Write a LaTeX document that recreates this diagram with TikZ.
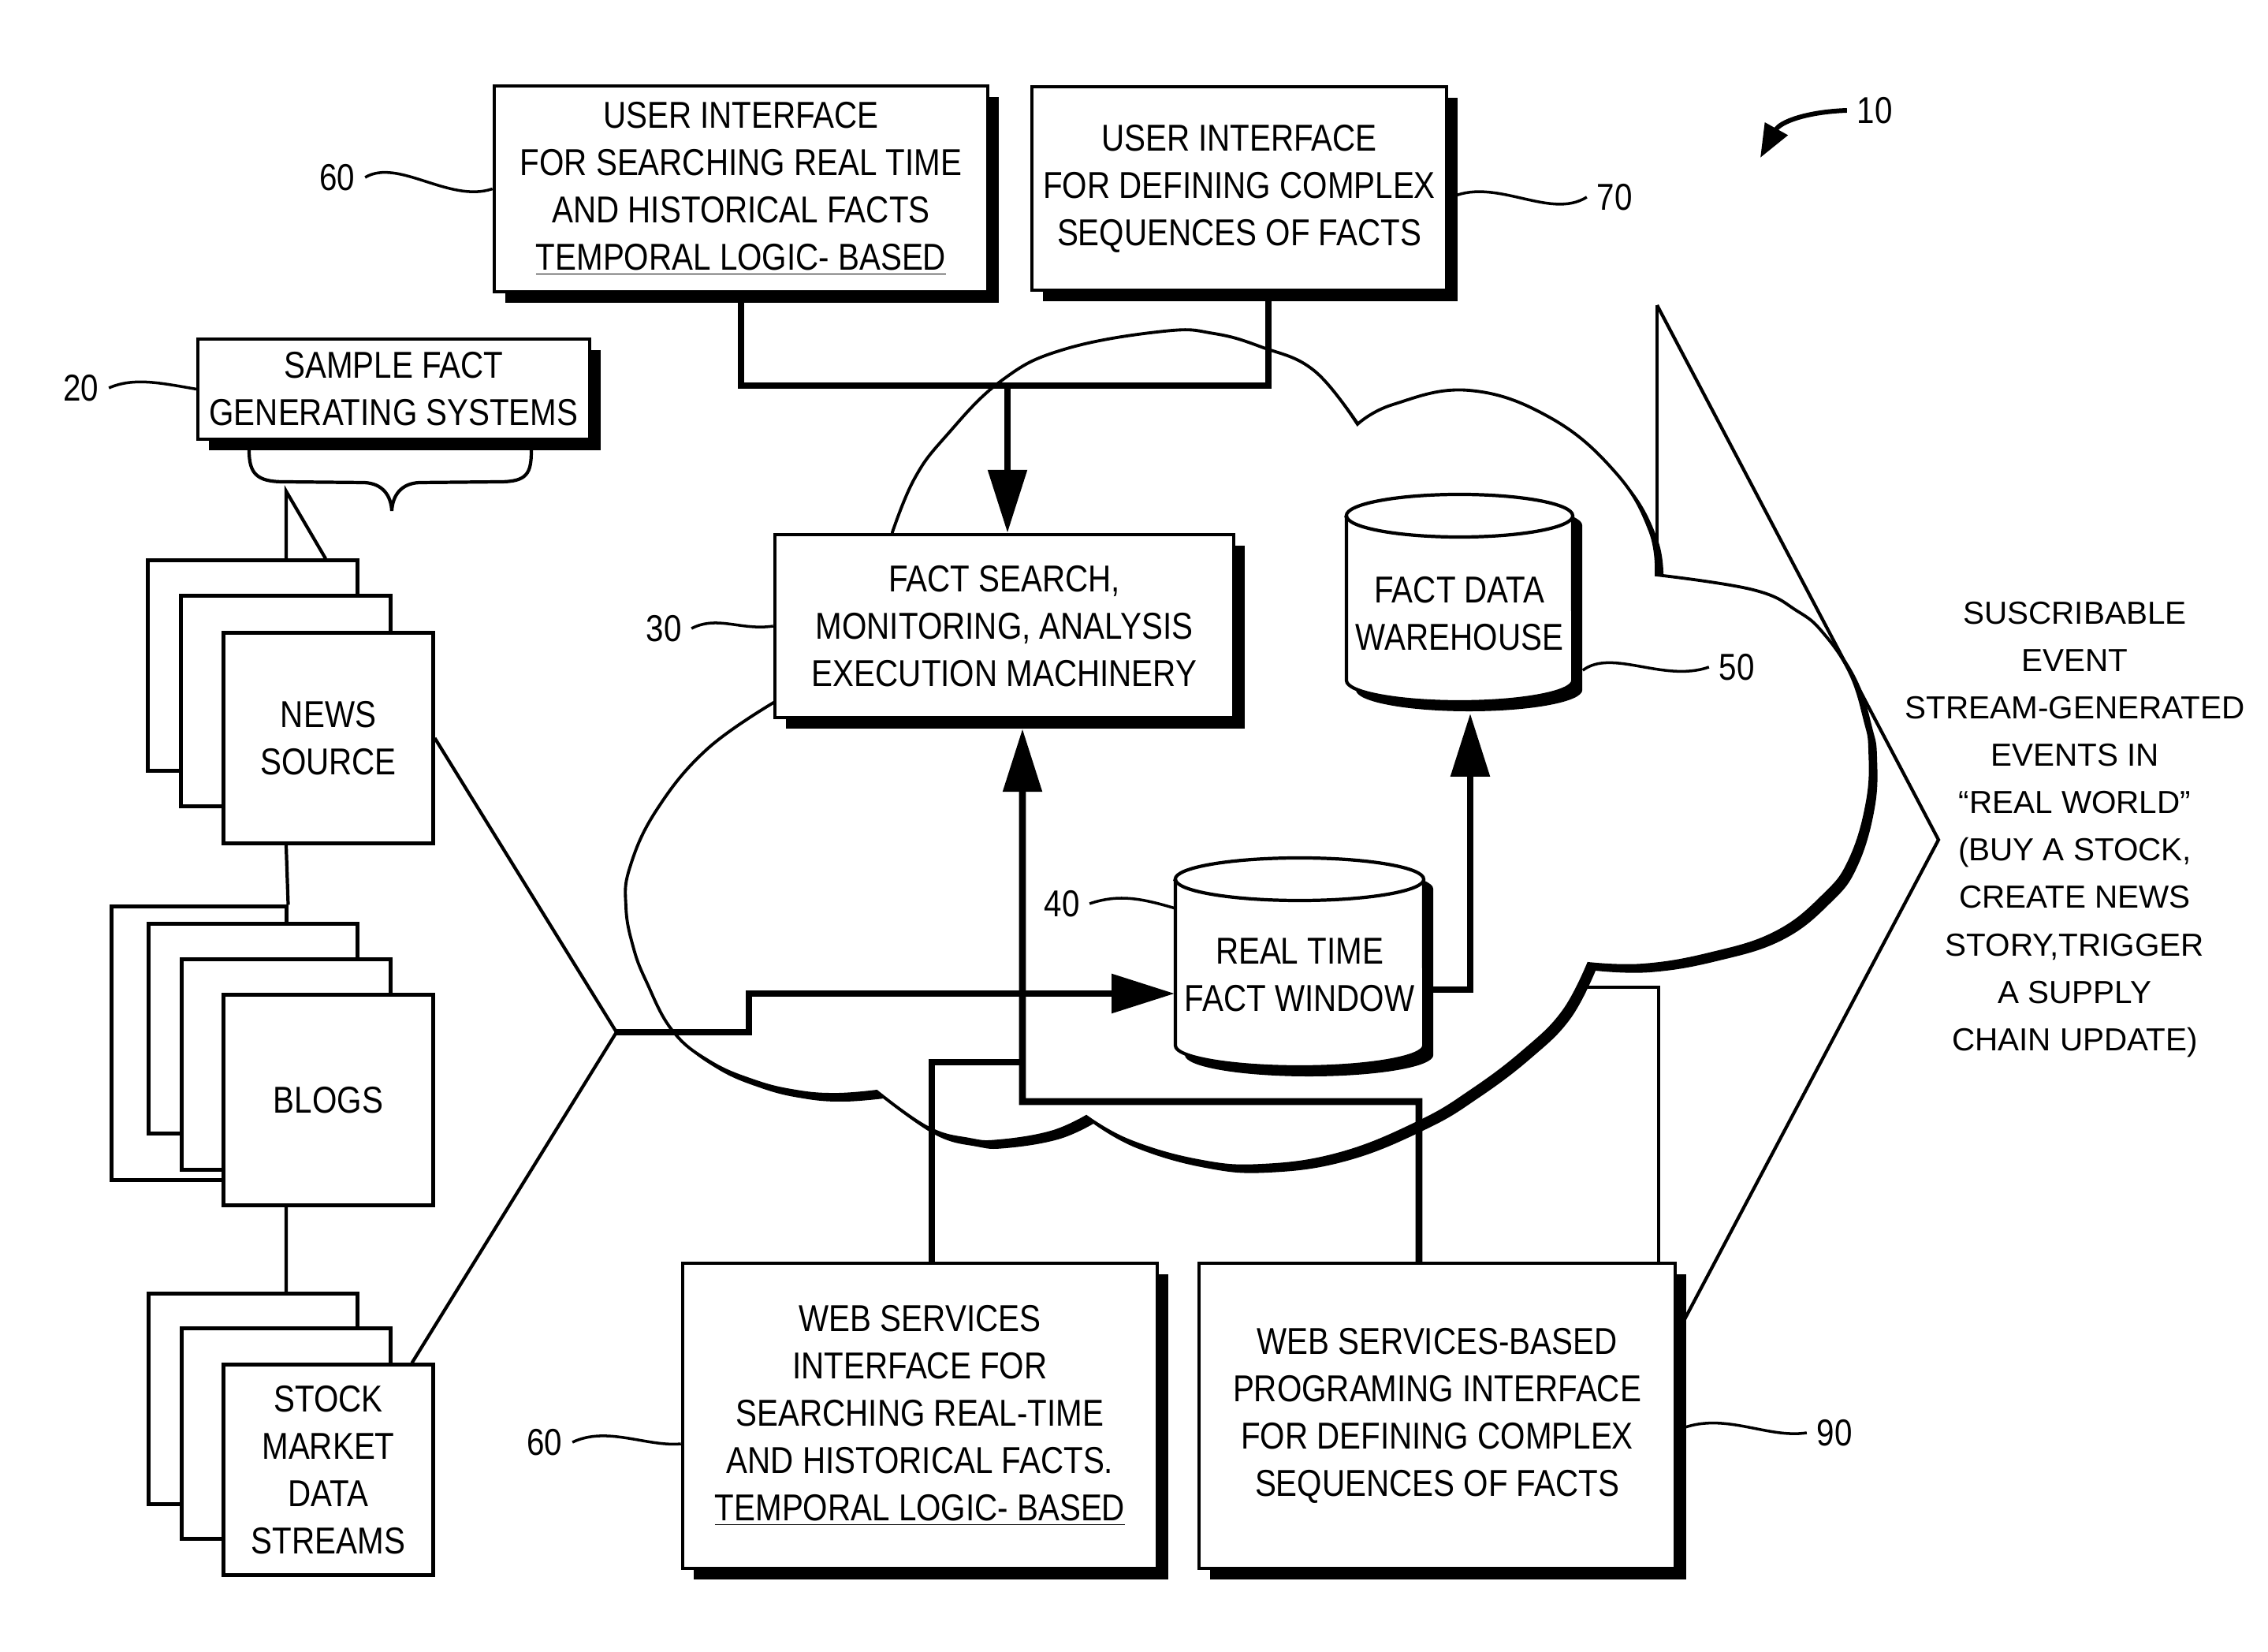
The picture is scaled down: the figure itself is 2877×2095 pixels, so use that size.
\documentclass[tikz,border=0pt]{standalone}
\usepackage{fontspec}
\setmainfont{Liberation Sans}
\newfontfamily\narrowfont{Liberation Sans}[FakeStretch=0.85]
\newcommand{\boxtext}{\narrowfont\fontsize{13.5}{17.07}\selectfont}
\newcommand{\eventtext}{\fontsize{11.5}{17.07}\selectfont}
\usetikzlibrary{arrows.meta,shadows}

\begin{document}
\begin{tikzpicture}[x=0.01cm, y=-0.01cm,
  infobox/.style={rectangle, draw=black, line width=1.2pt, fill=white, inner sep=0pt, align=center, font=\boxtext,
    drop shadow={shadow xshift=0.14cm, shadow yshift=-0.14cm, opacity=1, fill=black}},
  page/.style={rectangle, draw=black, line width=1.4pt, fill=white, minimum width=2.65cm, minimum height=2.66cm, inner sep=0pt, align=center, font=\boxtext},
  store/.style={rectangle, inner sep=0pt, align=center, font=\boxtext},
  storebody/.style={line width=1.2pt, fill=white, drop shadow={shadow xshift=0.12cm, shadow yshift=-0.12cm, opacity=1, fill=black}},
  reflabel/.style={inner sep=0.12cm, font=\boxtext},
  leader/.style={line width=1pt},
  flow/.style={line width=2.5pt},
  arrow/.style={flow, -{Triangle[length=0.8cm, width=0.48cm]}},
  refarrow/.style={line width=1.7pt, -{Triangle[length=0.42cm, width=0.32cm]}},
  pointer/.style={line width=1.2pt}
]
\useasboundingbox (0,0) rectangle (2877,2095);

% Event pointer, back edge (hidden by the cloud)
\coordinate (evtop) at (2102,387);
\draw[pointer] (evtop) -- (2102,780);

% Cloud
\draw[line width=1.1pt, fill=white, drop shadow={shadow xshift=0.09cm, shadow yshift=-0.09cm, opacity=1, fill=black}]
  plot[smooth, tension=0.7] coordinates {(983,890) (897,950) (833,1027) (799,1100) (794,1150) (803,1200) (820,1245) (853,1307) (900,1346) (957,1371) (1010,1384) (1060,1388) (1112,1384)}
  -- plot[smooth, tension=0.7] coordinates {(1112,1384) (1177,1430) (1230,1445) (1267,1447) (1333,1436) (1378,1416)}
  -- plot[smooth, tension=0.7] coordinates {(1378,1416) (1433,1447) (1520,1472) (1600,1478) (1700,1463) (1800,1423) (1867,1383) (1933,1333) (1983,1283) (2015,1222)}
  -- plot[smooth, tension=0.7] coordinates {(2015,1222) (2084,1224) (2168,1210) (2252,1183) (2313,1136) (2347,1090) (2369,1016) (2372,951) (2366,914) (2347,854) (2313,803) (2280,775) (2224,748) (2101,729)}
  -- plot[smooth, tension=0.7] coordinates {(2101,729) (2093,673) (2050,600) (1967,530) (1863,495) (1767,513) (1722,538)}
  -- plot[smooth, tension=0.7] coordinates {(1722,538) (1667,470) (1600,440) (1540,423) (1477,420) (1350,443) (1270,483) (1200,553) (1160,607) (1132,675)}
  -- (1132,700) -- (1000,700) -- (1000,885) -- cycle;

% Interface and machinery boxes
\node[infobox, minimum width=6.26cm, minimum height=2.61cm] (ui60) at (940,239.5) {USER INTERFACE\\FOR SEARCHING REAL TIME\\AND HISTORICAL FACTS\\\underline{TEMPORAL LOGIC- BASED}};
\node[infobox, minimum width=5.26cm, minimum height=2.58cm] (ui70) at (1572,239) {USER INTERFACE\\FOR DEFINING COMPLEX\\SEQUENCES OF FACTS};
\node[infobox, minimum width=4.96cm, minimum height=1.27cm] (sample) at (499.5,493.5) {SAMPLE FACT\\GENERATING SYSTEMS};
\node[infobox, minimum width=5.82cm, minimum height=2.32cm] (fsm) at (1274,794) {FACT SEARCH,\\MONITORING, ANALYSIS\\EXECUTION MACHINERY};
\node[infobox, minimum width=6.02cm, minimum height=3.87cm] (ws60) at (1167,1795.5) {WEB SERVICES\\INTERFACE FOR\\SEARCHING REAL-TIME\\AND HISTORICAL FACTS.\\\underline{TEMPORAL LOGIC- BASED}};
\node[infobox, minimum width=6.04cm, minimum height=3.87cm] (ws90) at (1823,1795.5) {WEB SERVICES-BASED\\PROGRAMING INTERFACE\\FOR DEFINING COMPLEX\\SEQUENCES OF FACTS};

% Fact stores
\draw[storebody] (1708,654) -- (1708,863) arc[start angle=180, end angle=360, x radius=1.435cm, y radius=0.27cm]
  -- (1995,654) arc[start angle=0, end angle=180, x radius=1.435cm, y radius=0.27cm] -- cycle;
\draw[line width=1.2pt] (1708,654) arc[start angle=180, end angle=360, x radius=1.435cm, y radius=0.27cm];
\node[store, minimum width=2.87cm, minimum height=2.09cm] (fdw) at (1851.5,778) {FACT DATA\\WAREHOUSE};

\draw[storebody] (1491,1115) -- (1491,1326) arc[start angle=180, end angle=360, x radius=1.575cm, y radius=0.27cm]
  -- (1806,1115) arc[start angle=0, end angle=180, x radius=1.575cm, y radius=0.27cm] -- cycle;
\draw[line width=1.2pt] (1491,1115) arc[start angle=180, end angle=360, x radius=1.575cm, y radius=0.27cm];
\node[store, minimum width=3.15cm, minimum height=2.11cm] (rtw) at (1648.5,1236) {REAL TIME\\FACT WINDOW};

% Fact generating systems
\node[page] (newsback) at (320.5,844) {};
\node[page] (newsmid) at (362.5,889) {};
\node[page] (news) at (416.5,936) {NEWS\\SOURCE};

\node[page, minimum width=2.21cm, minimum height=3.46cm] (blogsback) at (252.5,1323) {};
\node[page] (blogsmid) at (321,1304.5) {};
\node[page] (blogsnear) at (363,1350) {};
\node[page] (blogs) at (416.5,1395) {BLOGS};

\node[page] (stockback) at (321,1774) {};
\node[page] (stockmid) at (363,1818) {};
\node[page] (stock) at (416.5,1864) {STOCK\\MARKET\\DATA\\STREAMS};

\coordinate (newsapex) at (363,623);
\draw[pointer] ([xshift=0.425cm]newsback.north) -- (newsapex) -- ([xshift=0.925cm]newsback.north);
\draw[pointer] ([xshift=-0.535cm]news.south) -- (blogsback.north east);
\draw[pointer] ([xshift=-0.535cm]blogs.south) -- ([xshift=0.42cm]stockback.north);

% Brace under the sample systems
\draw[pointer] (316,571) .. controls (316,600) and (325,611) .. (360,611) -- (462,612)
  .. controls (485,613) and (496,628) .. (497,648) .. controls (498,628) and (509,613) .. (532,612)
  -- (634,611) .. controls (669,611) and (674,600) .. (674,571);

% Reference labels
\node[reflabel] (l10) at (2378,140) {10};
\node[reflabel] (l20) at (103,492) {20};
\node[reflabel] (l30) at (842,797) {30};
\node[reflabel] (l40) at (1347,1146) {40};
\node[reflabel] (l50) at (2203,846) {50};
\node[reflabel] (l60top) at (428,225) {60};
\node[reflabel] (l60low) at (691,1829) {60};
\node[reflabel] (l70) at (2048,250) {70};
\node[reflabel] (l90) at (2327,1817) {90};

% Connections
\coordinate (bus) at (1278,489);
\draw[flow] (ui60.south) |- (bus) -| ([xshift=0.37cm]ui70.south);
\draw[arrow] (bus) -- (bus |- fsm.north);

\coordinate (jn) at (782,1309);
\draw[pointer] (news.east) -- (jn) -- ([xshift=-0.29cm]stock.north east);
\draw[arrow] (jn) -- ++(168,0) |- ([yshift=-0.24cm]rtw.west);
\draw[arrow] ([yshift=-0.19cm]rtw.east) -| ([xshift=0.135cm,yshift=-0.215cm]fdw.south);

\coordinate (fsmbend) at (1297,1397);
\draw[arrow] ([xshift=-0.23cm]ws90.north) |- (fsmbend) -- ([xshift=0.23cm,yshift=-0.12cm]fsm.south);
\draw[flow] ([xshift=0.15cm]ws60.north) |- ([yshift=0.5cm]fsmbend);

\coordinate (cloudtap) at (2012,1252);
\draw[pointer] (cloudtap) -| ([xshift=-0.23cm]ws90.north east);

% Leaders
\draw[leader] (l20.east) .. controls (170,478) and (205,486) .. (sample.west);
\draw[leader] (l60top.east) .. controls (505,200) and (570,258) .. (ui60.west);
\draw[leader] ([yshift=-0.13cm]ui70.east) .. controls (1895,222) and (1965,280) .. (l70.west);
\draw[leader] (l30.east) .. controls (910,780) and (940,800) .. (fsm.west);
\draw[leader] (l40.east) .. controls (1420,1133) and (1450,1140) .. ([yshift=-0.22cm]rtw.north west);
\draw[leader] ([xshift=0.12cm,yshift=-0.72cm]fdw.east) .. controls (2045,822) and (2110,866) .. (l50.west);
\draw[leader] ([yshift=-0.185cm]ws90.east) .. controls (2185,1788) and (2240,1825) .. (l90.west);
\draw[leader] (l60low.east) .. controls (770,1808) and (820,1835) .. ([yshift=-0.355cm]ws60.west);
\coordinate (l10tip) at (2233,200);
\draw[refarrow] (l10.west) .. controls (2290,142) and (2258,155) .. (l10tip);

% Subscribable events
\node[align=center, font=\eventtext, inner sep=0pt] (events) at (2632,1052) {SUSCRIBABLE\\EVENT\\STREAM-GENERATED\\EVENTS IN\\``REAL WORLD''\\(BUY A STOCK,\\CREATE NEWS\\STORY,TRIGGER\\A SUPPLY\\CHAIN UPDATE)};
\coordinate (evtip) at (2459,1065);
\coordinate (evfoot) at (2137,1673);
\draw[pointer] (evtop) -- (evtip) -- (evfoot);

\end{tikzpicture}
\end{document}
